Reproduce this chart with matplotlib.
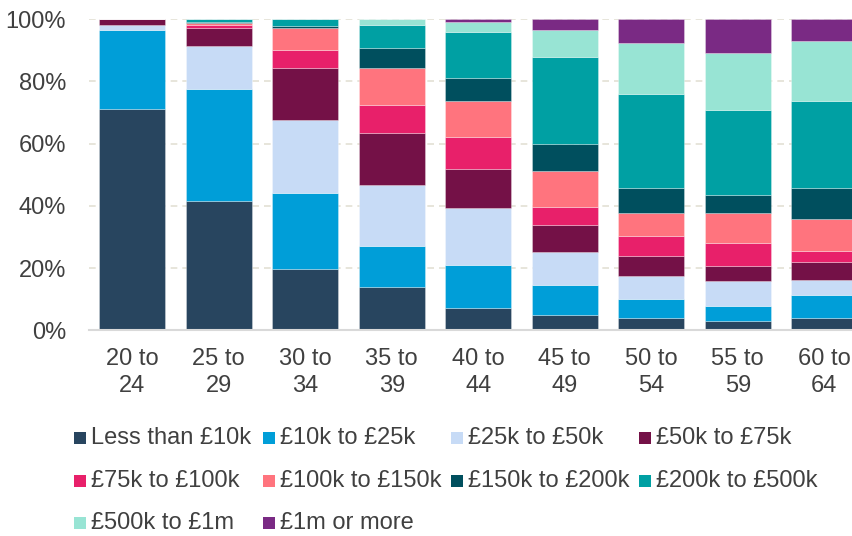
import matplotlib
matplotlib.use("Agg")
import matplotlib.pyplot as plt
from matplotlib.patches import Rectangle
import numpy as np

plt.rcParams['font.family'] = ['Liberation Sans', 'DejaVu Sans']

categories = ["20 to\n24", "25 to\n29", "30 to\n34", "35 to\n39", "40 to\n44",
              "45 to\n49", "50 to\n54", "55 to\n59", "60 to\n64"]
bands = ["Less than £10k", "£10k to £25k", "£25k to £50k", "£50k to £75k",
         "£75k to £100k", "£100k to £150k", "£150k to £200k", "£200k to £500k",
         "£500k to £1m", "£1m or more"]

less10 = [71.0, 41.7, 19.6, 13.8, 7.3, 4.8, 4.0, 3.1, 3.8]
k10_25 = [25.4, 36.0, 24.6, 13.4, 13.8, 9.9, 6.0, 4.7, 7.6]
k25_50 = [1.7, 13.8, 23.5, 19.6, 18.3, 10.6, 7.6, 8.2, 4.7]
k50_75 = [1.9, 5.8, 16.5, 16.6, 12.6, 8.4, 6.4, 4.8, 6.0]
k75_100 = [0.0, 0.8, 5.9, 9.2, 10.2, 6.0, 6.2, 7.2, 3.4]
k100_150 = [0.0, 0.6, 7.2, 11.8, 11.6, 11.6, 7.5, 9.8, 10.3]
k150_200 = [0.0, 0.5, 0.7, 6.5, 7.4, 8.7, 8.2, 5.6, 9.9]
k200_500 = [0.0, 0.8, 2.0, 7.4, 14.6, 28.0, 30.1, 27.3, 28.1]
k500_1m = [0.0, 0.0, 0.0, 1.7, 3.4, 8.4, 16.5, 18.5, 19.3]
m1_plus = [0.0, 0.0, 0.0, 0.0, 0.8, 3.6, 7.5, 10.8, 6.9]

series = [less10, k10_25, k25_50, k50_75, k75_100, k100_150, k150_200,
          k200_500, k500_1m, m1_plus]
colors = ["#28455f", "#009ed8", "#c7dbf6", "#741147", "#e8206a",
          "#ff747e", "#004f5e", "#00a0a3", "#98e4d4", "#7a2a84"]

text_color = "#404040"
FS = 17
W, H = 852, 536
fig = plt.figure(figsize=(W / 100, H / 100), dpi=100)
left, right = 89 / W, 867.5 / W
bottom, top = (H - 330.3) / H, (H - 19.3) / H
ax = fig.add_axes([left, bottom, right - left, top - bottom])

x = np.arange(len(categories))
base = np.zeros(len(categories))
for vals, col in zip(series, colors):
    v = np.array(vals)
    ax.bar(x, v, bottom=base, width=0.76, color=col, edgecolor=(1, 1, 1, 0.35),
           linewidth=0.6, zorder=3)
    base += v

ax.set_xlim(-0.5, len(categories) - 0.5)
ax.set_ylim(0, 100)
ax.set_yticks([0, 20, 40, 60, 80, 100])
ax.set_yticklabels([f"{t}%" for t in [0, 20, 40, 60, 80, 100]])
ax.set_xticks(x)
ax.set_xticklabels(categories, linespacing=1.25)
ax.tick_params(axis='both', length=0, labelsize=FS, colors=text_color)
ax.tick_params(axis='y', pad=16.5)
ax.tick_params(axis='x', pad=13)
for s in ['top', 'right', 'left']:
    ax.spines[s].set_visible(False)
ax.spines['bottom'].set_color('#d9d9d9')
ax.spines['bottom'].set_linewidth(1.5)
ax.spines['bottom'].set_zorder(4)
ax.yaxis.grid(True, color='#e3e0d4', linestyle=(0, (4, 3)), linewidth=1.2, zorder=0)
ax.set_axisbelow(True)

# legend
col_x = [74, 263, 451, 639]
row_y = [438, 481, 523]
for i, (lab, col) in enumerate(zip(bands, colors)):
    r, c = divmod(i, 4)
    px, py = col_x[c], row_y[r]
    fig.patches.append(Rectangle((px / W, (H - py - 6) / H), 12 / W, 12 / H,
                                 transform=fig.transFigure, facecolor=col,
                                 edgecolor='none'))
    fig.text((px + 17) / W, (H - py) / H, lab, fontsize=FS, color=text_color,
             va='center', ha='left')

fig.savefig("out.png", dpi=100)
